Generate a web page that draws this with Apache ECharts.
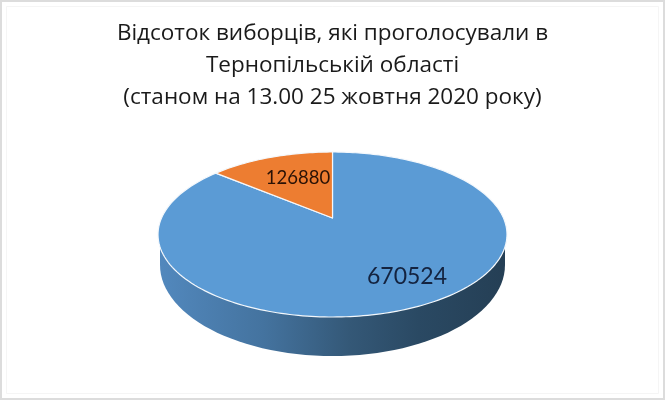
<!DOCTYPE html>
<html><head><meta charset="utf-8">
<style>html,body{margin:0;padding:0;background:#fff}#c{width:665px;height:400px}</style>
<script src="https://cdn.jsdelivr.net/npm/echarts@6/dist/echarts.min.js"></script>
</head><body><div id="c"></div>
<script>
const titleLines = ['Відсоток виборців, які проголосували в','Тернопільській області','(станом на 13.00 25 жовтня 2020 року)'];
const categories = ['Проголосували','Не проголосували'];
const values = [670524, 126880];
const colors = ['#5B9BD5','#ED7D31'];

// projection of the pie disc onto the page
const CX=332.5, CY=234.5, RX=174.5, RY=82.5, APEX_Y=218, FORE=0.774;
const LOW={cy:265, rx:172.5, ry:91};
const labelAt=[{x:407,y:277,size:23,color:'#14233f'},{x:298,y:178,size:18.5,color:'#2a1206'}];
const total=values.reduce((a,b)=>a+b,0);
const cc=(CY-APEX_Y)/RY;
const k=RX*Math.sqrt(1-cc*cc);
function pt(deg){
  const t=deg*Math.PI/180;
  let X=FORE*Math.sin(t),Y=Math.cos(t);const n=Math.hypot(X,Y);X/=n;Y/=n;
  const w=1+cc*Y;
  return [CX+k*X/w, CY-(RY*Y+(CY-APEX_Y))/w];
}
function wallPoints(){
  const p=[];
  for(let a=180;a>=0;a-=3){const t=a*Math.PI/180;p.push([CX+LOW.rx*Math.cos(t), LOW.cy+LOW.ry*Math.sin(t)]);}
  p.push([CX+LOW.rx,CY]);p.push([CX-LOW.rx,CY]);
  return p;
}
function renderItem(params){
  const i=params.dataIndex;
  const before=values.slice(0,i).reduce((a,b)=>a+b,0);
  const a0=before/total*360,a1=(before+values[i])/total*360;
  const poly=[[CX,APEX_Y]];
  const n=Math.max(8,Math.ceil((a1-a0)/1.5));
  for(let j=0;j<=n;j++)poly.push(pt(a0+(a1-a0)*j/n));
  const kids=[];
  if(i===0)kids.push({type:'polygon',shape:{points:wallPoints()},style:{fill:new echarts.graphic.LinearGradient(0,0,1,0,[
    {offset:0,color:'#5288bd'},{offset:.3,color:'#44739f'},{offset:.55,color:'#345877'},{offset:.75,color:'#2a4963'},{offset:1,color:'#253f55'}])}});
  kids.push({type:'polygon',shape:{points:poly},style:{fill:colors[i],stroke:'#f4f8fc',lineWidth:1.2,lineJoin:'round'}});
  return {type:'group',children:kids};
}
const chart=echarts.init(document.getElementById('c'),null,{renderer:'canvas'});
chart.setOption({
  animation:false,backgroundColor:'#fff',
  title:{text:titleLines.join('\n'),left:327.5,top:12.5,textAlign:'center',
    textStyle:{fontFamily:'Open Sans',fontWeight:'normal',fontSize:22.5,lineHeight:32,color:'#1a1a1a',align:'center'}},
  graphic:[
    {type:'rect',shape:{x:1,y:1,width:663,height:398},style:{fill:'none',stroke:'#dcdcdc',lineWidth:2},silent:true},
    {type:'rect',shape:{x:6.5,y:6.5,width:652,height:387},style:{fill:'none',stroke:'#f5f5f5',lineWidth:1},silent:true},
    ...values.map((v,i)=>({type:'text',z:50,style:{text:String(v),x:labelAt[i].x,y:labelAt[i].y,align:'center',verticalAlign:'middle',
      fontFamily:'Lato',fontSize:labelAt[i].size,fill:labelAt[i].color}}))
  ],
  series:[{type:'custom',coordinateSystem:'none',silent:true,renderItem,
    data:categories.map((n,i)=>({name:n,value:values[i]}))}]
});
</script></body></html>
